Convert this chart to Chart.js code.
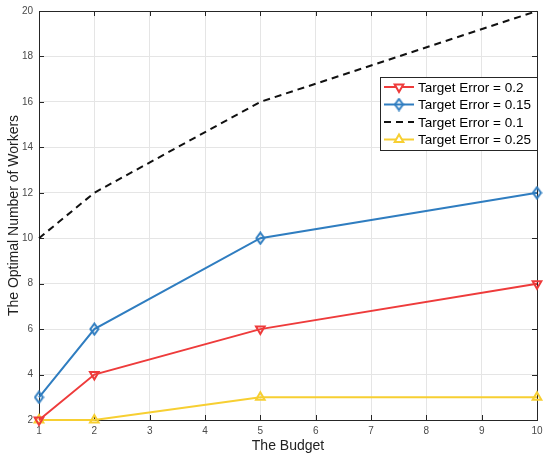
<!DOCTYPE html>
<html>
<head>
<meta charset="utf-8">
<script src="https://cdn.jsdelivr.net/npm/chart.js@4/dist/chart.umd.min.js"></script>
<style>
 html, body { margin: 0; padding: 0; background: #fff; }
 #wrap { width: 544px; height: 455px; }
</style>
</head>
<body>
<div id="wrap"><canvas id="chart" width="544" height="455"></canvas></div>
<script>
// budgets on the x axis
const budgets = [1, 2, 5, 10];
// optimal number of workers per target error
const err02 = [2, 4, 6, 8];
const err015 = [3, 6, 10, 12];
const err01 = [10, 12, 16, 20];
const err025 = [2, 2, 3, 3];
const seriesLabels = ['Target Error = 0.2', 'Target Error = 0.15', 'Target Error = 0.1', 'Target Error = 0.25'];

const RED = '#EE3B3B';
const BLUE = '#2F7DC0';
const BLACK = '#111111';
const YELLOW = '#F7CF32';
const FONT = '"Liberation Sans", Arial, sans-serif';

// tall, narrow diamond like the MATLAB marker
function diamond(color) {
 const c = document.createElement('canvas');
 c.width = 11; c.height = 14;
 const g = c.getContext('2d');
 g.strokeStyle = color;
 g.lineWidth = 2;
 g.beginPath();
 g.moveTo(5.5, 1.5); g.lineTo(9.5, 7); g.lineTo(5.5, 12.5); g.lineTo(1.5, 7);
 g.closePath();
 g.stroke();
 return c;
}

function pts(ys) {
 return budgets.map((x, i) => ({ x: x, y: ys[i] }));
}

function series(label, ys, color, style, rot, dash, radius) {
 return {
  label: label,
  data: pts(ys),
  borderColor: color,
  backgroundColor: color,
  borderWidth: 2,
  borderDash: dash || [],
  pointStyle: style,
  pointRotation: rot,
  pointRadius: radius,
  pointBorderWidth: 2,
  pointBackgroundColor: 'rgba(0,0,0,0)',
  pointBorderColor: color,
  tension: 0,
  clip: false
 };
}

// box, inward ticks and legend in the MATLAB style
const matlabAxes = {
 id: 'matlabAxes',
 beforeDatasetsDraw(chart) {
  const ctx = chart.ctx;
  const a = chart.chartArea;
  const xs = chart.scales.x, ys = chart.scales.y;
  ctx.save();
  ctx.strokeStyle = '#262626';
  ctx.lineWidth = 1;
  ctx.beginPath();
  xs.ticks.forEach(t => {
   const px = Math.round(xs.getPixelForValue(t.value)) + 0.5;
   ctx.moveTo(px, a.bottom); ctx.lineTo(px, a.bottom - 5);
   ctx.moveTo(px, a.top); ctx.lineTo(px, a.top + 5);
  });
  ys.ticks.forEach(t => {
   const py = Math.round(ys.getPixelForValue(t.value)) + 0.5;
   ctx.moveTo(a.left, py); ctx.lineTo(a.left + 5, py);
   ctx.moveTo(a.right, py); ctx.lineTo(a.right - 5, py);
  });
  ctx.stroke();
  ctx.strokeRect(Math.round(a.left) + 0.5, Math.round(a.top) + 0.5,
   Math.round(a.right - a.left), Math.round(a.bottom - a.top));
  ctx.restore();
 },
 afterDraw(chart) {
  const ctx = chart.ctx;
  const bx = 380.5, by = 77.5, bw = 157, bh = 73;
  ctx.save();
  ctx.fillStyle = '#ffffff';
  ctx.fillRect(bx, by, bw, bh);
  ctx.strokeStyle = '#262626';
  ctx.lineWidth = 1;
  ctx.strokeRect(bx, by, bw, bh);
  ctx.font = '13.5px ' + FONT;
  ctx.textBaseline = 'middle';
  chart.data.datasets.forEach((ds, k) => {
   const y = 87 + k * 17.5;
   ctx.strokeStyle = ds.borderColor;
   ctx.lineWidth = 2;
   ctx.setLineDash(ds.borderDash);
   ctx.beginPath();
   ctx.moveTo(384, y); ctx.lineTo(414, y);
   ctx.stroke();
   ctx.setLineDash([]);
   if (ds.pointRadius > 0) {
    ctx.fillStyle = '#ffffff';
    Chart.helpers.drawPoint(ctx, {
     pointStyle: ds.pointStyle,
     rotation: ds.pointRotation,
     radius: ds.pointRadius,
     borderWidth: 2
    }, 399, y);
   }
   ctx.fillStyle = '#000000';
   ctx.fillText(ds.label, 418, y + 1);
  });
  ctx.restore();
 }
};

new Chart(document.getElementById('chart'), {
 type: 'line',
 data: {
  datasets: [
   series(seriesLabels[0], err02, RED, 'triangle', 180, null, 5),
   series(seriesLabels[1], err015, BLUE, diamond(BLUE), 0, null, 5),
   series(seriesLabels[2], err01, BLACK, 'circle', 0, [7, 5], 0),
   series(seriesLabels[3], err025, YELLOW, 'triangle', 0, null, 5)
  ]
 },
 options: {
  responsive: false,
  animation: false,
  layout: { padding: { top: 11, right: 5, left: 0, bottom: 0 } },
  plugins: { legend: { display: false }, tooltip: { enabled: false } },
  scales: {
   x: {
    type: 'linear',
    min: 1, max: 10,
    ticks: { stepSize: 1, padding: 5, color: '#4a4a4a', font: { family: FONT, size: 10 }, maxRotation: 0 },
    grid: { color: '#E5E5E5', drawTicks: false, tickLength: 0 },
    border: { display: false },
    title: { display: true, text: 'The Budget', color: '#222', font: { family: FONT, size: 14 }, padding: { top: 1, bottom: 0 } },
    afterFit(s) { s.height = 35; s.paddingLeft = 0; s.paddingRight = 0; }
   },
   y: {
    type: 'linear',
    min: 2, max: 20,
    ticks: { stepSize: 2, padding: 6, color: '#4a4a4a', font: { family: FONT, size: 10 } },
    grid: { color: '#E5E5E5', drawTicks: false, tickLength: 0 },
    border: { display: false },
    title: { display: true, text: 'The Optimal Number of Workers', color: '#222', font: { family: FONT, size: 14 }, padding: { top: 6, bottom: 0 } },
    afterFit(s) { s.width = 39; s.paddingTop = 0; s.paddingBottom = 0; }
   }
  }
 },
 plugins: [matlabAxes]
});
</script>
</body>
</html>
